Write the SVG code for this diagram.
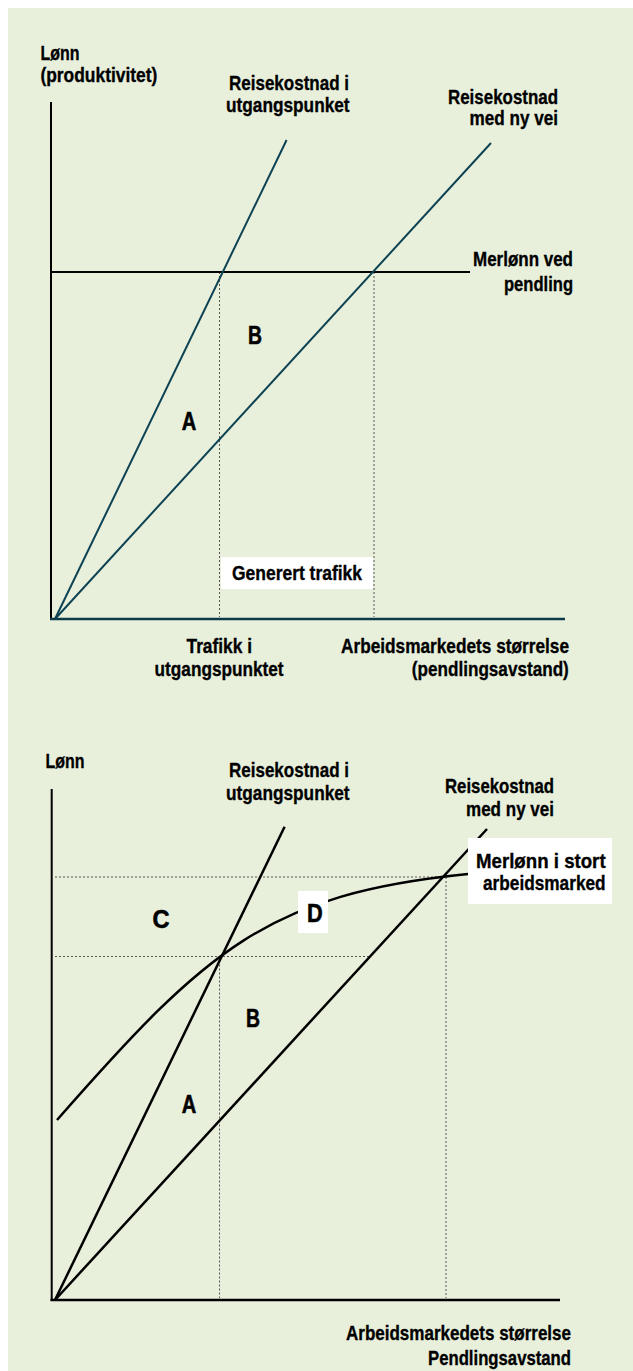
<svg xmlns="http://www.w3.org/2000/svg" width="633" height="1371" viewBox="0 0 633 1371">
<style>
.t{font-family:"Liberation Sans",Arial,sans-serif;font-weight:bold;font-size:20.5px;fill:#000;stroke:#000;stroke-width:0.35}
.big{font-size:26px;stroke-width:0.6}
.teal{stroke:#0d4253;stroke-width:2;fill:none}
.blk{stroke:#000;stroke-width:2;fill:none}
.blk2{stroke:#000;stroke-width:2.5;fill:none}
.dot{stroke:#555;stroke-width:1;stroke-dasharray:2 2;fill:none}
.box{fill:#fff}
</style>
<rect x="0" y="0" width="633" height="1371" fill="#fff"/>
<rect x="8" y="8" width="625" height="1363" fill="#e8f0dc"/>

<g id="connectors">
  <!-- top chart -->
  <line class="dot" x1="219.5" y1="272" x2="219.5" y2="617"/>
  <line class="dot" x1="374" y1="272" x2="374" y2="617"/>
  <line class="blk" x1="51" y1="102" x2="51" y2="620"/>
  <line x1="50" y1="619" x2="565" y2="619" stroke="#0d3a48" stroke-width="2.5"/>
  <line class="blk" x1="52" y1="272" x2="470" y2="272"/>
  <line class="teal" x1="55" y1="619" x2="286.6" y2="140"/>
  <line class="teal" x1="55" y1="619" x2="491" y2="143"/>
  <!-- bottom chart -->
  <line class="dot" x1="55" y1="877" x2="446" y2="877"/>
  <line class="dot" x1="446" y1="877" x2="446" y2="1298"/>
  <line class="dot" x1="55" y1="956.5" x2="370" y2="956.5"/>
  <line class="dot" x1="219.5" y1="956.5" x2="219.5" y2="1298"/>
  <line class="blk" x1="51.7" y1="789" x2="51.7" y2="1301"/>
  <line class="blk2" x1="50.5" y1="1300" x2="560" y2="1300"/>
  <line class="blk2" x1="55" y1="1300" x2="284.6" y2="826.7"/>
  <line class="blk2" x1="55" y1="1300" x2="487" y2="829"/>
  <path class="blk2" d="M57,1120 C207,949 268,894 468,874"/>
</g>

<g id="top-labels">
  <text class="t" x="40.4" y="60" textLength="39" lengthAdjust="spacingAndGlyphs">Lønn</text>
  <text class="t" x="40.4" y="82" textLength="117" lengthAdjust="spacingAndGlyphs">(produktivitet)</text>
  <text class="t" x="229" y="90" textLength="120" lengthAdjust="spacingAndGlyphs">Reisekostnad i</text>
  <text class="t" x="226" y="112" textLength="123.6" lengthAdjust="spacingAndGlyphs">utgangspunket</text>
  <text class="t" x="448" y="104" textLength="110" lengthAdjust="spacingAndGlyphs">Reisekostnad</text>
  <text class="t" x="469.5" y="125" textLength="88.5" lengthAdjust="spacingAndGlyphs">med ny vei</text>
  <text class="t" x="473" y="266" textLength="100" lengthAdjust="spacingAndGlyphs">Merlønn ved</text>
  <text class="t" x="504" y="291" textLength="69" lengthAdjust="spacingAndGlyphs">pendling</text>
  <text class="t big" x="248" y="344" textLength="14" lengthAdjust="spacingAndGlyphs">B</text>
  <text class="t big" x="181.7" y="430" textLength="14.5" lengthAdjust="spacingAndGlyphs">A</text>
</g>
<g id="generert">
  <rect class="box" x="221" y="557" width="152" height="32"/>
  <text class="t" x="232" y="579.5" textLength="130" lengthAdjust="spacingAndGlyphs">Generert trafikk</text>
</g>
<g id="top-axis-labels">
  <text class="t" x="186.5" y="653" textLength="65.5" lengthAdjust="spacingAndGlyphs">Trafikk i</text>
  <text class="t" x="154.6" y="676" textLength="129" lengthAdjust="spacingAndGlyphs">utgangspunktet</text>
  <text class="t" x="341" y="653" textLength="228" lengthAdjust="spacingAndGlyphs">Arbeidsmarkedets størrelse</text>
  <text class="t" x="411.8" y="676" textLength="157" lengthAdjust="spacingAndGlyphs">(pendlingsavstand)</text>
</g>

<g id="bottom-labels">
  <text class="t" x="45.6" y="768" textLength="39" lengthAdjust="spacingAndGlyphs">Lønn</text>
  <text class="t" x="229" y="777" textLength="120" lengthAdjust="spacingAndGlyphs">Reisekostnad i</text>
  <text class="t" x="226" y="800" textLength="123.6" lengthAdjust="spacingAndGlyphs">utgangspunket</text>
  <text class="t" x="445" y="793" textLength="109" lengthAdjust="spacingAndGlyphs">Reisekostnad</text>
  <text class="t" x="466" y="816" textLength="88" lengthAdjust="spacingAndGlyphs">med ny vei</text>
  <text class="t big" x="152.6" y="928" textLength="17" lengthAdjust="spacingAndGlyphs">C</text>
  <text class="t big" x="246" y="1027" textLength="14" lengthAdjust="spacingAndGlyphs">B</text>
  <text class="t big" x="181.7" y="1112.7" textLength="14.5" lengthAdjust="spacingAndGlyphs">A</text>
</g>
<g id="merlonn-stort">
  <rect class="box" x="468" y="838" width="144" height="66"/>
  <text class="t" x="476" y="868" textLength="129.6" lengthAdjust="spacingAndGlyphs">Merlønn i stort</text>
  <text class="t" x="483" y="890" textLength="122.6" lengthAdjust="spacingAndGlyphs">arbeidsmarked</text>
</g>
<g id="label-d">
  <rect class="box" x="298" y="891" width="30" height="42"/>
  <text class="t big" x="307" y="921.7" textLength="15.7" lengthAdjust="spacingAndGlyphs">D</text>
</g>
<g id="bottom-axis-labels">
  <text class="t" x="346" y="1340" textLength="225" lengthAdjust="spacingAndGlyphs">Arbeidsmarkedets størrelse</text>
  <text class="t" x="428" y="1365" textLength="143" lengthAdjust="spacingAndGlyphs">Pendlingsavstand</text>
</g>
</svg>
